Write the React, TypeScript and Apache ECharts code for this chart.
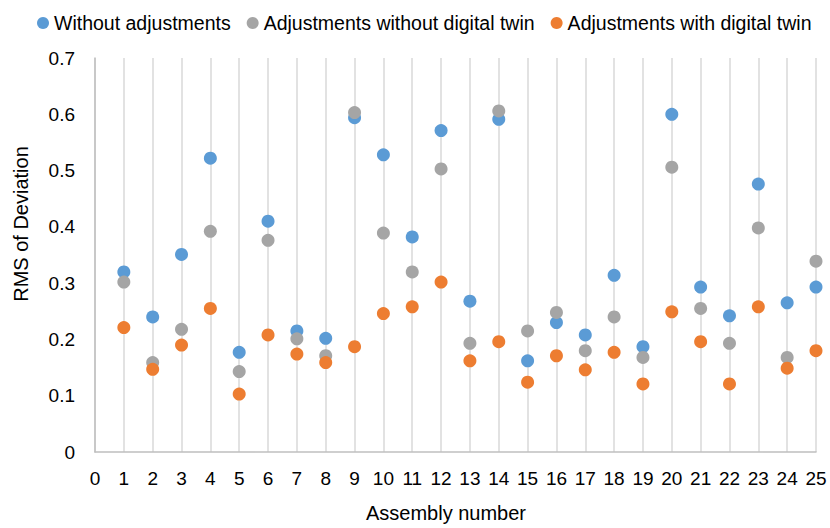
import React, { useEffect, useRef } from "react";
import * as echarts from "echarts";

const assemblies = [1, 2, 3, 4, 5, 6, 7, 8, 9, 10, 11, 12, 13, 14, 15, 16, 17, 18, 19, 20, 21, 22, 23, 24, 25];
const withoutAdjustments = [0.32, 0.24, 0.351, 0.522, 0.177, 0.41, 0.215, 0.202, 0.594, 0.528, 0.382, 0.571, 0.268, 0.591, 0.162, 0.23, 0.208, 0.314, 0.187, 0.6, 0.293, 0.242, 0.476, 0.265, 0.293];
const adjustmentsWithoutTwin = [0.302, 0.159, 0.218, 0.392, 0.143, 0.376, 0.201, 0.171, 0.603, 0.389, 0.32, 0.503, 0.193, 0.606, 0.215, 0.248, 0.18, 0.24, 0.168, 0.506, 0.255, 0.193, 0.398, 0.168, 0.339];
const adjustmentsWithTwin = [0.221, 0.147, 0.19, 0.255, 0.103, 0.208, 0.174, 0.159, 0.187, 0.246, 0.258, 0.302, 0.162, 0.196, 0.124, 0.171, 0.146, 0.177, 0.121, 0.249, 0.196, 0.121, 0.258, 0.149, 0.18];
const seriesNames = ["Without adjustments", "Adjustments without digital twin", "Adjustments with digital twin"];
const seriesColors = ["#5B9BD5", "#A5A5A5", "#ED7D31"];
const xTitle = "Assembly number";
const yTitle = "RMS of Deviation";

const FONT = "'Liberation Sans', Arial, sans-serif";

export default function App() {
  const ref = useRef<HTMLDivElement>(null);
  useEffect(() => {
    if (!ref.current) return;
    const chart = echarts.init(ref.current, null, { renderer: "svg" });
    const allData = [withoutAdjustments, adjustmentsWithoutTwin, adjustmentsWithTwin];
    chart.setOption({
      animation: false,
      textStyle: { fontFamily: FONT },
      legend: {
        data: seriesNames.map((n) => ({ name: n, icon: "circle" })),
        left: 32,
        top: 8,
        width: 798,
        orient: "horizontal",
        itemWidth: 12,
        itemHeight: 12,
        itemGap: 16,
        textStyle: { fontSize: 19.5, color: "#000", fontFamily: FONT },
      },
      grid: { left: 95, right: 14, top: 58, bottom: 76, containLabel: false },
      xAxis: {
        type: "value",
        min: 0,
        max: 25,
        interval: 1,
        axisLine: { show: true, lineStyle: { color: "#bfbfbf", width: 1.5 } },
        axisTick: { show: false },
        axisLabel: { fontSize: 19, color: "#000", margin: 17, fontFamily: FONT },
        splitLine: { show: true, lineStyle: { color: "#d9d9d9", width: 1.5 } },
      },
      yAxis: {
        type: "value",
        min: 0,
        max: 0.7,
        interval: 0.1,
        axisLine: { show: true, lineStyle: { color: "#bfbfbf", width: 1.5 } },
        axisTick: { show: false },
        axisLabel: { fontSize: 19, color: "#000", margin: 20, fontFamily: FONT },
        splitLine: { show: false },
      },
      graphic: [
        {
          type: "text",
          x: 21,
          y: 224,
          rotation: Math.PI / 2,
          style: {
            text: yTitle,
            fontSize: 20,
            fontFamily: FONT,
            fill: "#000",
            textAlign: "center",
            textVerticalAlign: "middle",
          },
        },
        {
          type: "text",
          x: 446,
          y: 513,
          style: {
            text: xTitle,
            fontSize: 20,
            fontFamily: FONT,
            fill: "#000",
            textAlign: "center",
            textVerticalAlign: "middle",
          },
        },
      ],
      series: seriesNames.map((name, i) => ({
        name,
        type: "scatter",
        symbol: "circle",
        symbolSize: 13,
        itemStyle: { color: seriesColors[i], opacity: 1 },
        data: assemblies.map((a, j) => [a, allData[i][j]]),
      })),
    });
    return () => chart.dispose();
  }, []);
  return <div ref={ref} style={{ width: 830, height: 528, position: "absolute", left: 0, top: 0 }} />;
}
